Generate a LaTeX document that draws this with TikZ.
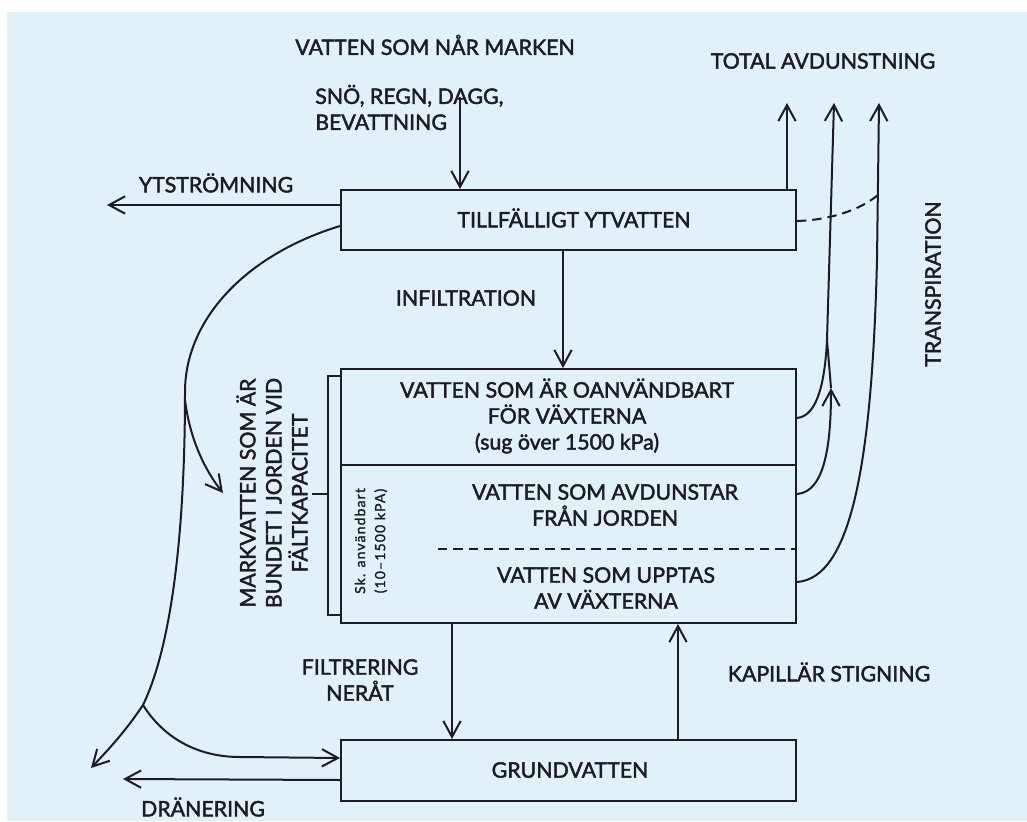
\documentclass[tikz,border=0pt]{standalone}
\usepackage{fontspec}
\setmainfont{Lato}[FakeBold=2]
\newfontfamily\smallfont{Lato}[LetterSpace=8,FakeBold=1.5]
\usetikzlibrary{arrows.meta,calc}
\definecolor{bg}{RGB}{226,241,247}
\definecolor{ink}{RGB}{28,28,34}
\begin{document}
\begin{tikzpicture}[x=0.75pt,y=-0.75pt,
  every node/.style={text=ink, font=\fontsize{16}{19.5}\selectfont, inner sep=0pt},
  box/.style={draw=ink, line width=1.5pt, inner sep=0pt, anchor=north west},
  conn/.style={draw=ink, line width=1.5pt},
  arr/.style={conn, -{Straight Barb[length=12pt,width=13pt,line width=1.5pt]}},
  dsh/.style={conn, dash pattern=on 7pt off 4.5pt},
  lbl/.style={align=center},
  vlbl/.style={align=center, rotate=90},
]
\useasboundingbox (0,0) rectangle (1027,821);
\fill[bg] (7,12) rectangle (1027,821);

% boxes
\node[box, minimum width=341.25pt, minimum height=45pt] (ytv) at (340,189) {};
\node[box, minimum width=341.25pt, minimum height=190.5pt] (mid) at (340,368) {};
\node[box, minimum width=341.25pt, minimum height=45.75pt] (grund) at (340,739) {};

% helper coordinates
\coordinate (divy) at (0,465);
\coordinate (dashL) at (438,549);
\coordinate (snoTop) at (460,97);
\coordinate (ytsEnd) at (107,205);
\coordinate (infx) at (563,0);
\coordinate (filx) at (452,0);
\coordinate (kapx) at (678,0);
\coordinate (ev1) at (787,103);
\coordinate (ev2) at (834,103);
\coordinate (ev3) at (879,103);
\coordinate (merge) at (827,340);
\coordinate (c2tip) at (831,388);
\coordinate (dashEnd) at (878,195);
\coordinate (split) at (143,705);
\coordinate (drainTip) at (91,768);
\coordinate (branchStart) at (185,400);
\coordinate (markTip) at (223,493);
\coordinate (drTip) at (123,779);
\coordinate (brTop) at (328,376);
\coordinate (brBot) at (328,615);
\coordinate (brMid) at (328,494);
\coordinate (tickEnd) at (312,494);

% inside middle box
\draw[conn] (mid.west |- divy) -- (mid.east |- divy);
\draw[dsh] (dashL) -- (mid.east |- dashL);

% bracket
\draw[conn] (mid.west |- brTop) -- (brTop) -- (brBot) -- (mid.west |- brBot);
\draw[conn] (brMid) -- (tickEnd);

% vertical arrows
\draw[arr] (snoTop) -- (snoTop |- ytv.north);
\draw[arr] (ytv.west |- ytsEnd) -- (ytsEnd);
\draw[arr] (ytv.south -| infx) -- (mid.north -| infx);
\draw[arr] (mid.south -| filx) -- (grund.north -| filx);
\draw[arr] (grund.north -| kapx) -- (mid.south -| kapx);
\draw[arr] (ev1 |- ytv.north) -- (ev1);

% left curves
\draw[conn] ($(ytv.west)+(0,6)$) .. controls (245,255) and (185,320) .. (185,392)
  .. controls (185,530) and (172,645) .. (split);
\draw[arr] (split) .. controls (125,732) and (108,750) .. (drainTip);
\draw[arr] (branchStart) .. controls (190,440) and (205,470) .. (markTip);
\draw[arr] (split) .. controls (165,740) and (200,757) .. (240,757) -- ($(grund.west)+(0,-12.5)$);
\draw[arr] ($(grund.west)+(0,9.5)$) -- (drTip);

% right curves
\draw[arr] ($(mid.north east)+(0,50)$) .. controls (818,416) and (825,380) .. (merge) -- (ev2);
\draw[arr] ($(mid.north east)+(0,126)$) .. controls (826,492) and (831,440) .. (c2tip);
\draw[conn] (c2tip) -- (merge);
\draw[arr] ($(mid.north east)+(0,214)$) .. controls (852,578) and (872,460) .. (877,260) -- (ev3);
\draw[dsh] ($(ytv.east)+(0,1)$) .. controls (830,220) and (860,210) .. (dashEnd);

% labels
\node[lbl] (tnar) at (435,45) {VATTEN SOM NÅR MARKEN};
\node[align=left, anchor=west] (tsno) at (315,107.5) {SNÖ, REGN, DAGG,\\BEVATTNING};
\node[lbl] (ttot) at (823,61) {TOTAL AVDUNSTNING};
\node[lbl] (tyts) at (216,183) {YTSTRÖMNING};
\node[lbl] (tytv) at (574,218) {TILLFÄLLIGT YTVATTEN};
\node[lbl] (tinf) at (466,298) {INFILTRATION};
\node[lbl] (toan) at (567,416) {VATTEN SOM ÄR OANVÄNDBART\\FÖR VÄXTERNA\\(sug över 1500 kPa)};
\node[lbl] (tavd) at (605,505) {VATTEN SOM AVDUNSTAR\\FRÅN JORDEN};
\node[lbl] (tupp) at (606,588) {VATTEN SOM UPPTAS\\AV VÄXTERNA};
\node[vlbl] (tmark) at (272,493) {MARKVATTEN SOM ÄR\\BUNDET I JORDEN VID\\FÄLTKAPACITET};
\node[vlbl, font=\smallfont\fontsize{10.5}{15}\selectfont] (tsk) at (371,541) {Sk. användbart\\(10–1500 kPA)};
\node[vlbl] (ttra) at (933,284) {TRANSPIRATION};
\node[lbl] (tfil) at (360,680) {FILTRERING\\NERÅT};
\node[lbl] (tkap) at (829,672) {KAPILLÄR STIGNING};
\node[lbl] (tgru) at (570,770) {GRUNDVATTEN};
\node[lbl] (tdra) at (203,807) {DRÄNERING};
\end{tikzpicture}
\end{document}
